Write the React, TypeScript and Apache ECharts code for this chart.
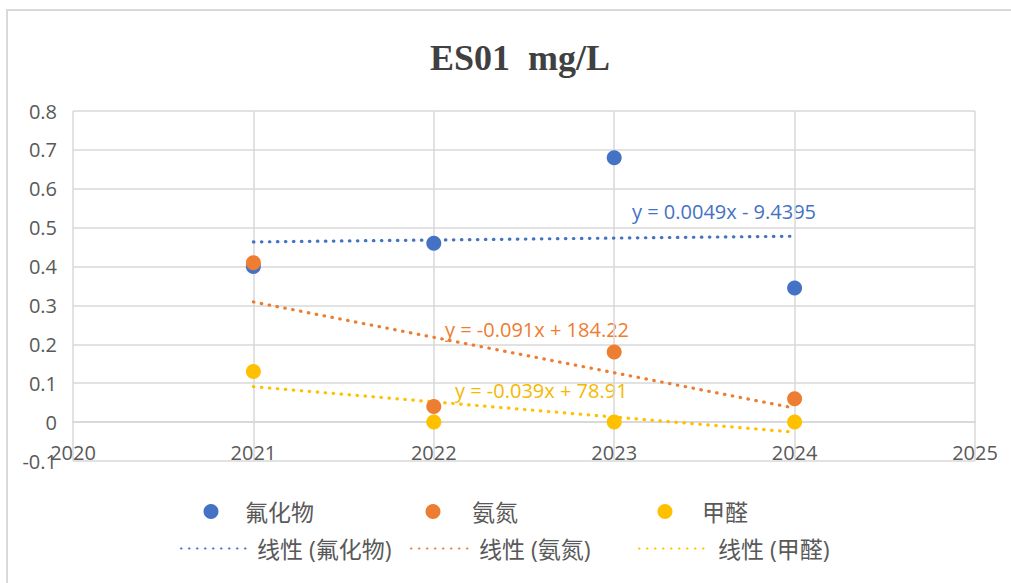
import React, { useEffect, useRef } from "react";
import * as echarts from "echarts";

const years = [2021, 2022, 2023, 2024];
const fluoride = [0.4, 0.46, 0.68, 0.345];
const ammonia = [0.41, 0.04, 0.18, 0.06];
const formaldehyde = [0.13, 0, 0, 0];

const trendYears = [2021, 2024];
const fluorideTrend = [0.4634, 0.4781];
const ammoniaTrend = [0.309, 0.036];
const formaldehydeTrend = [0.091, -0.026];

const seriesNames = ["氟化物", "氨氮", "甲醛"];
const trendNames = ["线性 (氟化物)", "线性 (氨氮)", "线性 (甲醛)"];
const equations = ["y = 0.0049x - 9.4395", "y = -0.091x + 184.22", "y = -0.039x + 78.91"];
const colors = ["#4472C4", "#ED7D31", "#FFC000"];
const eqColors = ["#4472C4", "#ED7D31", "#F5B800"];

const FONT = "'Open Sans', 'Noto Sans CJK SC', sans-serif";

export default function App() {
  const ref = useRef<HTMLDivElement>(null);
  useEffect(() => {
    if (!ref.current) return;
    const chart = echarts.init(ref.current, null, { renderer: "svg" });
    const values = [fluoride, ammonia, formaldehyde];
    const trends = [fluorideTrend, ammoniaTrend, formaldehydeTrend];

    const dotted = (c: string) => ({ color: c, width: 3.2, type: [0.5, 7.5], cap: "round" });

    const scatterSeries = values.map((vals, i) => ({
      name: seriesNames[i],
      type: "scatter",
      symbol: "circle",
      symbolSize: 15,
      itemStyle: { color: colors[i], opacity: 1 },
      data: years.map((y, j) => [y, vals[j]]),
      z: 3 + i,
    }));
    const trendSeries = trends.map((vals, i) => ({
      name: trendNames[i],
      type: "line",
      symbol: "none",
      showSymbol: false,
      itemStyle: { color: colors[i] },
      lineStyle: dotted(colors[i]),
      data: trendYears.map((y, j) => [y, vals[j]]),
      z: 2,
    }));

    const legendText = { color: "#595959", fontSize: 23, fontFamily: FONT };
    const mkDot = (name: string, center: number, textX: number, top: number) => ({
      data: [name],
      left: center - 7.5,
      top,
      itemWidth: 15,
      itemHeight: 15,
      padding: 0,
      textStyle: { ...legendText, padding: [0, 0, 0, textX - center - 12.5] },
      selectedMode: false,
    });
    const mkLine = (name: string, left: number, right: number, textX: number, top: number) => ({
      data: [name],
      left,
      top,
      itemWidth: right - left,
      itemHeight: 15,
      padding: 0,
      itemStyle: { opacity: 0 },
      textStyle: { ...legendText, padding: [0, 0, 0, textX - right - 5] },
      selectedMode: false,
    });

    chart.setOption({
      animation: false,
      backgroundColor: "#ffffff",
      title: {
        text: "ES01  mg/L",
        left: 515,
        top: 35,
        textAlign: "center",
        textStyle: {
          fontFamily: "'Liberation Serif', 'Times New Roman', serif",
          fontWeight: "bold",
          fontSize: 36,
          color: "#404040",
        },
      },
      grid: { left: 73, right: 36, top: 111, bottom: 122, containLabel: false },
      xAxis: {
        type: "value",
        min: 2020,
        max: 2025,
        interval: 1,
        offset: -38.9,
        axisLine: { show: true, onZero: false, lineStyle: { color: "#d9d9d9", width: 2 } },
        axisTick: { show: false },
        axisLabel: { color: "#595959", fontSize: 20, fontFamily: FONT, margin: 20, formatter: (v: number) => String(v) },
        splitLine: { show: true, lineStyle: { color: "#d9d9d9", width: 1.5 } },
      },
      yAxis: {
        type: "value",
        min: -0.1,
        max: 0.8,
        interval: 0.1,
        axisLine: { show: false },
        axisTick: { show: false },
        axisLabel: {
          color: "#595959",
          fontSize: 20,
          fontFamily: FONT,
          margin: 16,
          formatter: (v: number) => String(Math.round(v * 10) / 10),
        },
        splitLine: { show: true, lineStyle: { color: "#d9d9d9", width: 1.5 } },
      },
      legend: [
        mkDot(seriesNames[0], 211, 245, 500),
        mkDot(seriesNames[1], 433, 472, 500),
        mkDot(seriesNames[2], 665, 702, 500),
        mkLine(trendNames[0], 180, 248, 256, 537),
        mkLine(trendNames[1], 410, 470, 478, 537),
        mkLine(trendNames[2], 638, 706, 717, 537),
      ],
      graphic: [
        {
          type: "rect",
          silent: true,
          shape: { x: 7, y: 10, width: 1030, height: 620 },
          style: { fill: "none", stroke: "#d9d9d9", lineWidth: 2 },
          z: -10,
        },
        {
          type: "text",
          x: 632,
          y: 201,
          style: { text: equations[0], fill: eqColors[0], fontSize: 20, fontFamily: FONT },
        },
        {
          type: "text",
          x: 445,
          y: 319,
          style: { text: equations[1], fill: eqColors[1], fontSize: 20, fontFamily: FONT },
        },
        {
          type: "text",
          x: 455,
          y: 380,
          style: { text: equations[2], fill: eqColors[2], fontSize: 20, fontFamily: FONT },
        },
      ],
      series: [...trendSeries, ...scatterSeries],
    });
    return () => chart.dispose();
  }, []);
  return (
    <div
      ref={ref}
      style={{ position: "fixed", left: 0, top: 0, width: 1011, height: 583, background: "#fff" }}
    />
  );
}
